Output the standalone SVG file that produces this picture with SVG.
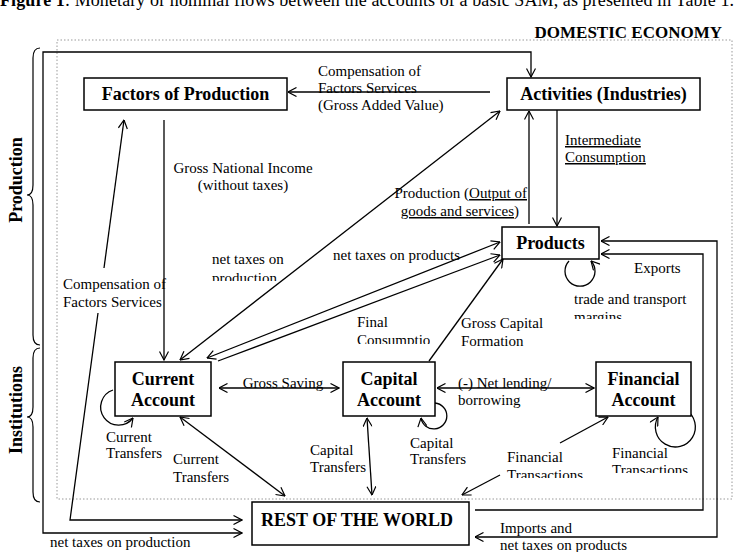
<svg xmlns="http://www.w3.org/2000/svg" width="738" height="552" viewBox="0 0 738 552">
<style>
.node{fill:#fff;stroke:#000;stroke-width:1.5}
.nt{font-family:"Liberation Serif","Times New Roman",serif;font-size:18px;font-weight:bold;text-anchor:middle;fill:#000}
.lb{font-family:"Liberation Serif","Times New Roman",serif;font-size:15px;fill:#000}
.ln{fill:none;stroke:#000;stroke-width:1.3}
.u{text-decoration:underline}
</style>
<defs>
<marker id="ah" viewBox="0 0 10 10" refX="9.5" refY="5" markerWidth="10" markerHeight="10" markerUnits="userSpaceOnUse" orient="auto-start-reverse">
<path d="M1,0.5 L9.5,5 L1,9.5" fill="none" stroke="#000" stroke-width="1.2"/>
</marker>
<clipPath id="c1"><rect x="200" y="268" width="100" height="13"/></clipPath>
<clipPath id="c2"><rect x="350" y="330" width="80" height="14"/></clipPath>
<clipPath id="c3"><rect x="570" y="308" width="80" height="11"/></clipPath>
<clipPath id="c4"><rect x="500" y="466" width="100" height="12"/></clipPath>
<clipPath id="c5"><rect x="605" y="462" width="100" height="11"/></clipPath>
</defs>

<rect width="738" height="552" fill="#fff"/>

<text x="0" y="6" font-family="Liberation Serif,'Times New Roman',serif" font-size="18" textLength="734" lengthAdjust="spacing"><tspan font-weight="bold">Figure 1</tspan>: Monetary or nominal flows between the accounts of a basic SAM, as presented in Table 1.</text>
<text x="722" y="38" font-family="Liberation Serif,'Times New Roman',serif" font-size="17" font-weight="bold" text-anchor="end">DOMESTIC ECONOMY</text>

<rect x="57" y="40" width="675" height="459" fill="none" stroke="#999" stroke-width="1" stroke-dasharray="1.5 2"/>

<g id="braces" fill="none" stroke="#000" stroke-width="1.2">
<path d="M40 48 Q33 48 33 58 L33 185 Q33 195 27 195 Q33 195 33 205 L33 335 Q33 345 40 345"/>
<path d="M40 348 Q33 348 33 358 L33 407 Q33 417 27 417 Q33 417 33 427 L33 492 Q33 502 40 502"/>
</g>
<text transform="translate(22,180) rotate(-90)" class="nt">Production</text>
<text transform="translate(22,410) rotate(-90)" class="nt">Institutions</text>

<g id="connectors" class="ln">
<path d="M490 92 L288 92" marker-end="url(#ah)"/>
<path d="M531 77 L531 52 L43 52 L43 533 L242 533" marker-start="url(#ah)" marker-end="url(#ah)"/>
<path d="M104 268 L124 120" marker-end="url(#ah)"/>
<path d="M98 313 L70 520 L242 520" marker-end="url(#ah)"/>
<path d="M164 120 L164 360" marker-end="url(#ah)"/>
<path d="M180 360 L500 111" marker-start="url(#ah)" marker-end="url(#ah)"/>
<path d="M207 358 L500 242" marker-start="url(#ah)" marker-end="url(#ah)"/>
<path d="M218 361 L500 255" marker-end="url(#ah)"/>
<path d="M429 361 L503 259" marker-end="url(#ah)"/>
<path d="M529 224 L529 111" marker-end="url(#ah)"/>
<path d="M557 110 L557 226" marker-end="url(#ah)"/>
<path d="M601 241 L717 241 L717 537 L475 537" marker-start="url(#ah)" marker-end="url(#ah)"/>
<path d="M475 510 L703 510 L703 254 L601 254" marker-end="url(#ah)"/>
<path d="M219 388 L339 388" marker-start="url(#ah)" marker-end="url(#ah)"/>
<path d="M437 388 L594 388" marker-start="url(#ah)" marker-end="url(#ah)"/>
<path d="M180 417 L285 496" marker-start="url(#ah)" marker-end="url(#ah)"/>
<path d="M367 418 L372 495" marker-start="url(#ah)" marker-end="url(#ah)"/>
<path d="M500 475 L462 495" marker-end="url(#ah)"/>
<path d="M560 443 L608 417" marker-end="url(#ah)"/>
<path d="M113 390 A18 18 0 1 0 133 418" marker-end="url(#ah)"/>
<path d="M435 403 A13 13 0 1 1 421 418" marker-end="url(#ah)"/>
<path d="M686 410 A20 20 0 1 1 658 417" marker-end="url(#ah)"/>
<path d="M569 261 A15 15 0 1 0 591 261" marker-end="url(#ah)"/>
</g>

<g id="n-factors"><rect class="node" x="84" y="78" width="203" height="32"/><text class="nt" x="185.5" y="100">Factors of Production</text></g>
<g id="n-activities"><rect class="node" x="507" y="78" width="193" height="32"/><text class="nt" x="603.5" y="100">Activities (Industries)</text></g>
<g id="n-products"><rect class="node" x="502" y="227" width="97" height="32"/><text class="nt" x="550.5" y="249">Products</text></g>
<g id="n-current"><rect class="node" x="115" y="362" width="96" height="54"/><text class="nt" x="163" y="385">Current</text><text class="nt" x="163" y="406">Account</text></g>
<g id="n-capital"><rect class="node" x="343" y="362" width="92" height="54"/><text class="nt" x="389" y="385">Capital</text><text class="nt" x="389" y="406">Account</text></g>
<g id="n-financial"><rect class="node" x="596" y="362" width="95" height="54"/><text class="nt" x="643.5" y="385">Financial</text><text class="nt" x="643.5" y="406">Account</text></g>
<g id="n-row"><rect class="node" x="252" y="502" width="217" height="43"/><text class="nt" x="357" y="526">REST OF THE WORLD</text></g>

<g id="labels" class="lb">
<text x="318" y="76">Compensation of</text>
<text x="318" y="93">Factors Services</text>
<text x="318" y="110">(Gross Added Value)</text>
<text x="565" y="145" class="u">Intermediate</text>
<text x="565" y="162" class="u">Consumption</text>
<text x="527" y="198" text-anchor="end">Production (<tspan class="u">Output of</tspan></text>
<text x="519" y="216" text-anchor="end"><tspan class="u">goods and services</tspan>)</text>
<text x="243" y="173" text-anchor="middle">Gross National Income</text>
<text x="243" y="190" text-anchor="middle">(without taxes)</text>
<text x="212" y="264">net taxes on</text>
<text x="212" y="283" clip-path="url(#c1)">production</text>
<text x="333" y="260">net taxes on products</text>
<text x="63" y="289">Compensation of</text>
<text x="63" y="307">Factors Services</text>
<text x="357" y="327">Final</text>
<text x="357" y="345" clip-path="url(#c2)">Consumptio</text>
<text x="461" y="328">Gross Capital</text>
<text x="461" y="346">Formation</text>
<text x="634" y="273">Exports</text>
<text x="574" y="304">trade and transport</text>
<text x="574" y="322" clip-path="url(#c3)">margins</text>
<text x="283" y="388" text-anchor="middle">Gross Saving</text>
<text x="458" y="388">(-) Net lending/</text>
<text x="458" y="405">borrowing</text>
<text x="106" y="442">Current</text>
<text x="106" y="458">Transfers</text>
<text x="173" y="464">Current</text>
<text x="173" y="482">Transfers</text>
<text x="310" y="455">Capital</text>
<text x="310" y="472">Transfers</text>
<text x="410" y="448">Capital</text>
<text x="410" y="464">Transfers</text>
<text x="507" y="462">Financial</text>
<text x="507" y="480" clip-path="url(#c4)">Transactions</text>
<text x="612" y="458">Financial</text>
<text x="612" y="475" clip-path="url(#c5)">Transactions</text>
<text x="500" y="533">Imports and</text>
<text x="500" y="550">net taxes on products</text>
<text x="50" y="547">net taxes on production</text>
</g>
</svg>
